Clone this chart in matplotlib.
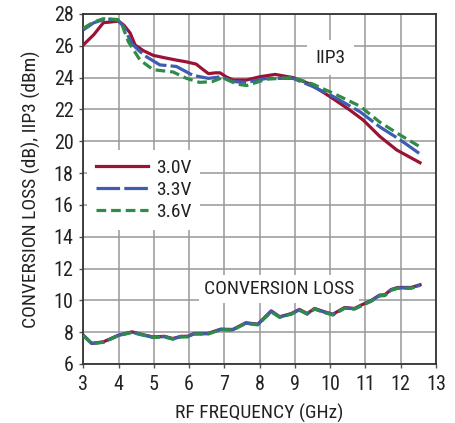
import matplotlib
matplotlib.use("Agg")
import matplotlib.pyplot as plt

plt.rcParams['font.family'] = ['Roboto Condensed', 'DejaVu Sans']
plt.rcParams['lines.scale_dashes'] = False

# IIP3 curves (GHz, dBm)
f_iip3_30 = [3.0, 3.3, 3.57, 3.8, 4.0, 4.15, 4.33, 4.47, 4.7, 4.98, 5.3, 5.64, 5.9, 6.2, 6.4,
             6.55, 6.75, 6.88, 7.05, 7.25, 7.63, 8.0, 8.44, 8.95, 9.43, 10.0, 10.56, 10.94,
             11.41, 11.89, 12.26, 12.55]
iip3_30 = [26.05, 26.7, 27.45, 27.5, 27.55, 27.3, 26.8, 26.05, 25.7, 25.4, 25.25, 25.1, 25.0,
           24.85, 24.5, 24.25, 24.3, 24.3, 24.05, 23.85, 23.85, 24.05, 24.2, 24.0, 23.6, 22.8,
           21.96, 21.33, 20.3, 19.45, 19.0, 18.65]

f_iip3_33 = [3.0, 3.3, 3.66, 3.98, 4.15, 4.37, 4.6, 4.8, 5.17, 5.64, 5.85, 6.1, 6.55, 6.9, 7.25,
             7.63, 8.2, 8.95, 9.5, 10.1, 10.85, 11.41, 11.98, 12.55]
iip3_33 = [27.0, 27.45, 27.7, 27.6, 27.2, 26.15, 25.65, 25.3, 24.8, 24.7, 24.45, 24.15, 23.95,
           24.05, 23.75, 23.7, 23.95, 23.95, 23.45, 22.8, 21.85, 20.9, 20.1, 19.2]

f_iip3_36 = [3.0, 3.3, 3.57, 3.98, 4.1, 4.28, 4.61, 4.98, 5.55, 5.93, 6.3, 6.66, 6.95, 7.34,
             7.63, 8.2, 8.95, 9.5, 10.2, 10.85, 11.41, 11.98, 12.55]
iip3_36 = [27.1, 27.5, 27.7, 27.65, 27.3, 26.25, 25.1, 24.5, 24.35, 23.95, 23.7, 23.75, 24.0,
           23.6, 23.5, 23.9, 24.0, 23.6, 22.9, 22.2, 21.2, 20.4, 19.65]

# conversion loss (dB), curves overlap for all supplies
f_cl = [3.0, 3.24, 3.57, 4.0, 4.38, 4.75, 4.98, 5.3, 5.54, 5.77, 5.96, 6.15, 6.53, 6.9, 7.24,
        7.61, 7.95, 8.33, 8.57, 8.9, 9.13, 9.35, 9.56, 9.84, 10.08, 10.41, 10.69, 10.88,
        11.17, 11.4, 11.55, 11.73, 11.92, 12.3, 12.55]
cl_30 = [7.81, 7.29, 7.39, 7.81, 8.02, 7.81, 7.7, 7.74, 7.6, 7.74, 7.74, 7.92, 7.92, 8.19, 8.17,
         8.59, 8.5, 9.34, 8.97, 9.17, 9.43, 9.17, 9.49, 9.28, 9.13, 9.55, 9.49, 9.7, 10.0,
         10.33, 10.35, 10.68, 10.81, 10.81, 10.98]
cl_33 = [7.8, 7.3, 7.38, 7.8, 8.0, 7.8, 7.68, 7.72, 7.58, 7.72, 7.72, 7.9, 7.9, 8.17, 8.15,
         8.57, 8.48, 9.3, 8.95, 9.15, 9.4, 9.15, 9.47, 9.25, 9.1, 9.52, 9.47, 9.67, 9.97,
         10.3, 10.32, 10.65, 10.78, 10.78, 10.95]
cl_36 = [7.78, 7.28, 7.36, 7.78, 7.98, 7.78, 7.66, 7.7, 7.56, 7.7, 7.7, 7.88, 7.88, 8.15, 8.13,
         8.55, 8.46, 9.28, 8.93, 9.13, 9.38, 9.13, 9.45, 9.23, 9.08, 9.5, 9.45, 9.65, 9.95,
         10.28, 10.3, 10.63, 10.76, 10.76, 10.93]

labels = ['3.0V', '3.3V', '3.6V']
colors = ['#9b1333', '#3f5db0', '#2e8b48']

fig = plt.figure(figsize=(4.55, 4.23), dpi=100)
ax = fig.add_axes([0.183, 0.1395, 0.775, 0.8275])

lw = 2.3
l1, = ax.plot(f_iip3_30, iip3_30, color=colors[0], lw=lw, label=labels[0], zorder=3)
l2, = ax.plot(f_iip3_33, iip3_33, color=colors[1], lw=lw, dashes=(17, 3), label=labels[1], zorder=4)
l3, = ax.plot(f_iip3_36, iip3_36, color=colors[2], lw=lw, dashes=(7, 3.5), label=labels[2], zorder=5)
ax.plot(f_cl, cl_30, color=colors[0], lw=lw, zorder=3)
ax.plot(f_cl, cl_33, color=colors[1], lw=lw, dashes=(17, 3), zorder=4)
ax.plot(f_cl, cl_36, color=colors[2], lw=lw, dashes=(7, 3.5), zorder=5)

ax.set_xlim(3, 13)
ax.set_ylim(6, 28)
ax.set_xticks(range(3, 14))
ax.set_yticks(range(6, 29, 2))
ax.grid(True, color='#999999', lw=1.1)
ax.set_axisbelow(True)
for s in ax.spines.values():
    s.set_color('#333333')
    s.set_linewidth(1.3)
ax.tick_params(labelsize=14.5, length=3, width=1, color='#555555', labelcolor='#222222')
ax.tick_params(axis='x', pad=5)
ax.tick_params(axis='y', pad=4)

ax.set_xlabel('RF FREQUENCY (GHz)', fontsize=14, color='#222222', labelpad=7)
ax.set_ylabel('CONVERSION LOSS (dB), IIP3 (dBm)', fontsize=14, color='#222222', labelpad=9)

ax.text(10.0, 25.25, 'IIP3', fontsize=14, color='#222222', ha='center', va='center', zorder=2,
        bbox=dict(facecolor='white', edgecolor='none', pad=6))
ax.text(8.55, 10.7, 'CONVERSION LOSS', fontsize=14, color='#222222', ha='center', va='center',
        zorder=2, bbox=dict(facecolor='white', edgecolor='none', pad=3.5))

leg = ax.legend(handles=[l1, l2, l3], loc='upper left', bbox_to_anchor=(0.0, 0.623),
                frameon=True, fancybox=False, fontsize=14, handlelength=2.7,
                handletextpad=0.4, labelspacing=0.22, borderpad=0.45, borderaxespad=0.2)
leg.get_frame().set_edgecolor('none')
leg.get_frame().set_facecolor('white')
leg.get_frame().set_alpha(1)
for t in leg.get_texts():
    t.set_color('#222222')

fig.savefig('out.png', dpi=100)
